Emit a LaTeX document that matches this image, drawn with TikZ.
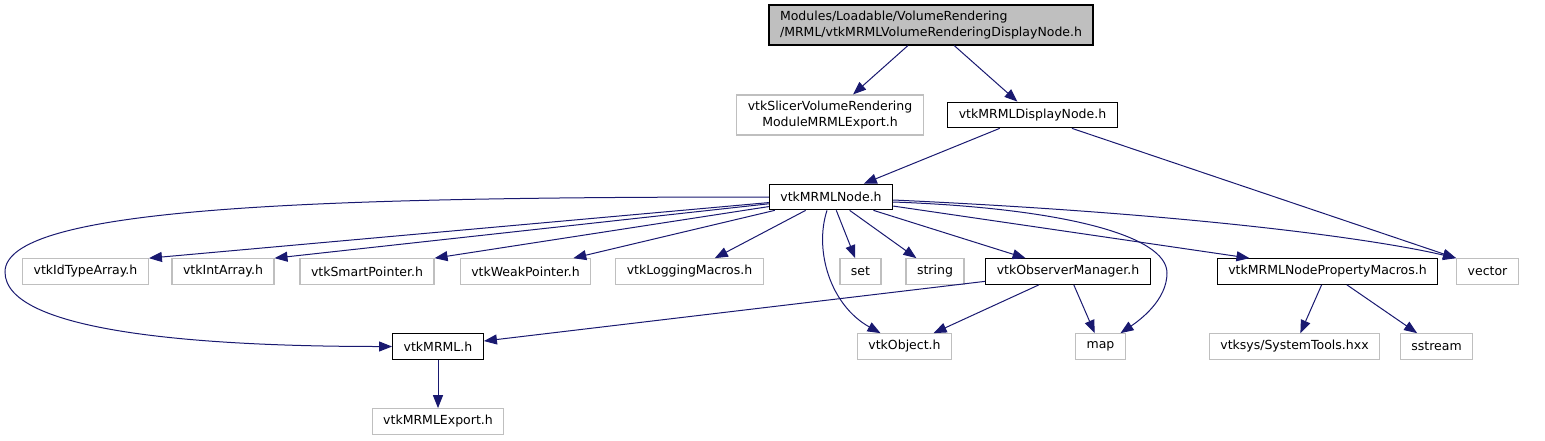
\documentclass[tikz,border=0pt]{standalone}
\usepackage{fontspec}
\setmainfont{DejaVu Sans}
\usepackage{xcolor}
\usetikzlibrary{arrows.meta}
\definecolor{edgeblue}{HTML}{191970}
\definecolor{boxgrey}{HTML}{BFBFBF}

\begin{document}
\begin{tikzpicture}[
  x=1pt, y=-1pt,
  font=\fontsize{12.5}{16.5}\selectfont,
  hdr/.style={draw=black, line width=1.2pt, fill=white, inner xsep=11pt, inner ysep=0pt, minimum height=25.5pt},
  ext/.style={hdr, draw=boxgrey},
  >={Triangle[length=13pt, width=10pt]},
  e/.style={->, draw=edgeblue, fill=none, line width=1pt},
]
\useasboundingbox (0,0) rectangle (1545,440);
% top rows
\node[hdr, fill=boxgrey, align=left, minimum height=40pt] (top) at (931,25) {Modules/Loadable/VolumeRendering\\/MRML/vtkMRMLVolumeRenderingDisplayNode.h};
\node[ext, align=center, minimum height=40pt] (slicer) at (830,115) {vtkSlicerVolumeRendering\\ModuleMRMLExport.h};
\node[hdr] (disp) at (1032.5,115) {vtkMRMLDisplayNode.h};
\node[hdr] (node) at (831,197) {vtkMRMLNode.h};
% includes of vtkMRMLNode.h
\node[ext] (idt) at (85.5,271.5) {vtkIdTypeArray.h};
\node[ext] (inta) at (223,271.5) {vtkIntArray.h};
\node[ext] (smart) at (367,271.5) {vtkSmartPointer.h};
\node[ext] (weak) at (525.5,271.5) {vtkWeakPointer.h};
\node[ext] (logm) at (689.5,271.5) {vtkLoggingMacros.h};
\node[ext] (set) at (860.5,271.5) {set};
\node[ext] (str) at (935,271.5) {string};
\node[hdr] (obs) at (1068,271.5) {vtkObserverManager.h};
\node[hdr] (prop) at (1327.5,271.5) {vtkMRMLNodePropertyMacros.h};
\node[ext] (vec) at (1487.5,271.5) {vector};
% lower rows
\node[hdr] (mrml) at (438,346.5) {vtkMRML.h};
\node[ext] (obj) at (904.5,346.5) {vtkObject.h};
\node[ext] (map) at (1100.5,346.5) {map};
\node[ext] (sys) at (1294.5,346.5) {vtksys/SystemTools.hxx};
\node[ext] (sstr) at (1436.5,346.5) {sstream};
\node[ext] (exp) at (438,421.5) {vtkMRMLExport.h};
\coordinate (lft) at (5,272);
\coordinate (rgt) at (1167,273);

\draw[e] (top) -- (slicer);
\draw[e] (top) -- (disp);
\draw[e] (disp) -- (node);
\draw[e] (disp) -- (vec.north west);
\draw[e] (node.west) .. controls (300,197) and (5,208) .. (lft) .. controls (5,332) and (200,346.5) .. (mrml.west);
\draw[e] (node) -- (idt.north east);
\draw[e] (node) -- (inta.north east);
\draw[e] (node) -- (smart.north east);
\draw[e] (node) -- ([xshift=-18pt]weak.north east);
\draw[e] (node) -- (logm);
\draw[e] (node) -- (set);
\draw[e] (node) -- (str);
\draw[e] (node) -- (obs);
\draw[e] ([xshift=-4pt]node.south) .. controls (814,250) and (830,305) .. ([xshift=-24pt]obj.north);
\draw[e] ([yshift=-5pt]node.east) .. controls (1060,208) and (1167,235) .. (rgt) .. controls (1167,300) and (1140,320) .. ([xshift=20pt]map.north);
\draw[e] (node) -- ([xshift=-78pt]prop.north);
\draw[e] ([yshift=-3pt]node.east) .. controls (1200,214) and (1380,240) .. (vec.north west);
\draw[e] (obs) -- (mrml);
\draw[e] (obs) -- (obj);
\draw[e] (obs) -- (map);
\draw[e] (prop) -- (sys);
\draw[e] (prop) -- (sstr);
\draw[e] (mrml) -- (exp);
\end{tikzpicture}
\end{document}
